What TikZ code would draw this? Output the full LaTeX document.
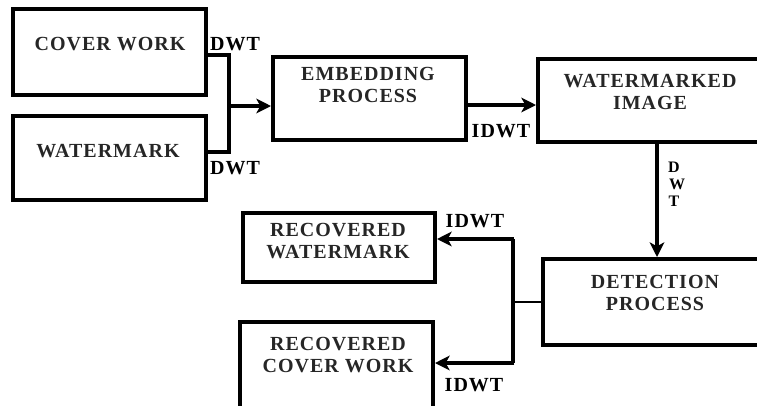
\documentclass[tikz,border=0pt]{standalone}
\usepackage{fontspec}
\setmainfont{Liberation Serif}[LetterSpace=5]
\usetikzlibrary{arrows.meta,fit}
\begin{document}
\begin{tikzpicture}[x=0.75pt,y=-0.75pt,
  box/.style={draw=black,line width=3pt,inner sep=0pt,fit={#1}},
  txt/.style={font=\fontsize{15}{16.5}\selectfont\bfseries,align=center,inner sep=0pt,text=black!85},
  lbl/.style={font=\fontsize{15}{16.5}\selectfont\bfseries,inner sep=0pt},
  vlbl/.style={font=\fontsize{12}{12}\selectfont\bfseries,inner sep=0pt},
  conn/.style={draw=black,line width=2.4pt},
  arr/.style={conn,-{Stealth[length=11pt,width=11pt,inset=3pt]}}]
\useasboundingbox (0,0) rectangle (757,405);
\clip (0,0) rectangle (757,405);
% boxes
\node[box={(13,9) (206,95)}] (cw) {};
\node[box={(13,116) (206,200)}] (wm) {};
\node[box={(273,57) (466,140)}] (emb) {};
\node[box={(538,59) (790,142)}] (wmi) {};
\node[box={(543,259) (790,345)}] (det) {};
\node[box={(243,213) (435,282)}] (rw) {};
\node[box={(240,322) (433,430)}] (rcw) {};
% texts
\node[txt] (cwt) at (110,44) {COVER WORK};
\node[txt] (wmt) at (108,151) {WATERMARK};
\node[txt] (embt) at (368,85) {EMBEDDING\\PROCESS};
\node[txt] (wmit) at (650,92) {WATERMARKED\\IMAGE};
\node[txt] (dett) at (655,293) {DETECTION\\PROCESS};
\node[txt] (rwt) at (338,241) {RECOVERED\\WATERMARK};
\node[txt] (rcwt) at (338,355) {RECOVERED\\COVER WORK};
% labels
\node[lbl] (d1) at (235,44) {DWT};
\node[lbl] (d2) at (235,168) {DWT};
\node[lbl] (i1) at (501,131) {IDWT};
\node[lbl] (i2) at (475,221) {IDWT};
\node[lbl] (i3) at (474,385) {IDWT};
\node[vlbl] (dv1) at (674,167) {D};
\node[vlbl] (dv2) at (677,184) {W};
\node[vlbl] (dv3) at (674,201) {T};
% connector points
\coordinate (y55) at (0,55);
\coordinate (y152) at (0,152);
\coordinate (j1) at (229,106);
\coordinate (y105) at (0,105);
\coordinate (x657) at (657,0);
\coordinate (y302) at (0,302);
\coordinate (jt) at (513,239);
\coordinate (jm) at (513,302);
\coordinate (jb) at (513,363);
% connectors
\draw[conn] (cw.east |- y55) -| (j1) |- (wm.east |- y152);
\draw[arr] (j1) -- (emb.west |- j1);
\draw[arr] (emb.east |- y105) -- (wmi.west |- y105);
\draw[arr] (wmi.south -| x657) -- (det.north -| x657);
\draw[draw=black,line width=1.6pt] (det.west |- y302) -- (jm);
\draw[draw=black,line width=3.5pt] (jt) -- (jb);
\draw[arr] ([xshift=1pt]jt) -- (rw.east |- jt);
\draw[arr] ([xshift=1pt]jb) -- (rcw.east |- jb);
\end{tikzpicture}
\end{document}
